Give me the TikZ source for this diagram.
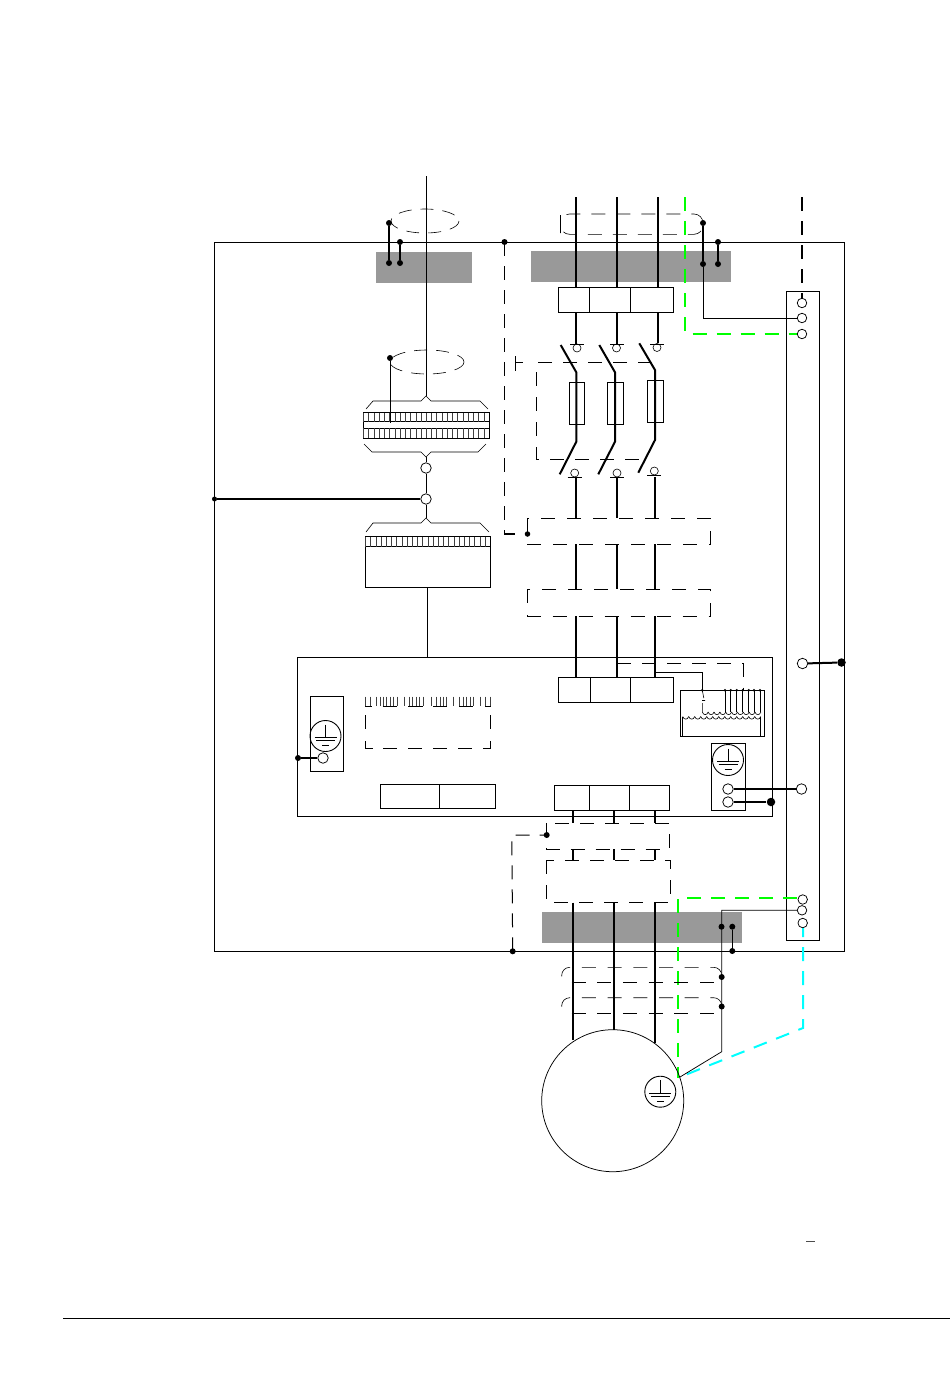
\documentclass[tikz,border=0pt]{standalone}
\definecolor{grnc}{RGB}{0,255,0}
\definecolor{cync}{RGB}{0,255,255}
\begin{document}
\begin{tikzpicture}[x=1pt,y=-1pt,line width=0.75pt,
  pwr/.style={line width=2pt},
  thn/.style={line width=0.6pt},
  tick/.style={line width=0.5pt,black!75},
  ldash/.style={dash pattern=on 14pt off 11pt},
  bdash/.style={line width=2pt,dash pattern=on 14pt off 10pt},
  grn/.style={draw=grnc,line width=2pt,dash pattern=on 14pt off 10pt},
  cyn/.style={draw=cync,line width=2pt,dash pattern=on 14pt off 10pt},
  term/.style={circle,draw,fill=white,inner sep=0pt,minimum size=10.5pt},
  smallterm/.style={circle,draw,thn,fill=white,inner sep=0pt,minimum size=8pt},
  pt/.style={circle,fill=black,inner sep=0pt,minimum size=6pt},
  bigpt/.style={circle,fill=black,inner sep=0pt,minimum size=8.5pt},
  gland/.style={fill=black!40,draw=none},
  strip/.style={draw,rectangle,inner sep=0pt,fill=white},
  earthc/.style={circle,draw,inner sep=0pt,minimum size=31pt,line width=0.9pt}]
\useasboundingbox (0,0) rectangle (950,1398);
\fill[white] (0,0) rectangle (950,1398);

% glands
\fill[gland] (376,252) rectangle (472,283);
\fill[gland] (530.5,251) rectangle (731,282);
\fill[gland] (542,912) rectangle (742,943);

% cabinet
\draw (214.5,242) rectangle (844,951);
% lower board
\node[draw,rectangle,inner sep=0pt,minimum width=474.5pt,minimum height=159pt] (board) at (534.75,736.5) {};

% ---- signal cable
\coordinate (sigtop) at (426,176);
\coordinate (brA) at (426,396);
\draw (sigtop) -- (brA);
\draw[thn,dash pattern=on 13pt off 9pt] (425,221) ellipse[x radius=34,y radius=12];
\draw[thn,dash pattern=on 13pt off 9pt] (427,362) ellipse[x radius=37,y radius=12];
\node[pt] (s1) at (389,223) {};
\node[pt] (s2) at (389,263) {};
\node[pt] (s3) at (400,242) {};
\node[pt] (s4) at (400,263) {};
\draw[line width=1.5pt] (s1) -- (s2);
\draw[line width=1.5pt] (s3) -- (s4);
\node[pt] (s5) at (390,358) {};
\coordinate (s6) at (390,423);
\draw[thn] (s5) -- (s6);
% upper terminal block
\draw[thn] (366,409) -- (373,401) -- (421,401) -- (426,396) -- (431,401) -- (480,401) -- (488,409);
\draw[thn] (363.5,412.7) rectangle (489,421.7);
\draw[thn] (363.5,428.3) rectangle (489,438);
\draw (363.5,421.7) rectangle (489,428.3);
\foreach \i in {0,...,23}{
  \draw[tick] (363.5+\i*5.23,412.7) -- (363.5+\i*5.23,421.7);
  \draw[tick] (363.5+\i*5.23,428.3) -- (363.5+\i*5.23,438);
}
\draw[thn] (364,444) -- (372,452) -- (421,452) -- (426,457) -- (431,452) -- (478,452) -- (486,444);
\coordinate (brB) at (426,457);
\node[term] (c1) at (426,468) {};
\node[term] (c2) at (426,499) {};
\coordinate (brC) at (426,518);
\draw[thn] (brB) -- (c1);
\draw[thn] (c1) -- (c2);
\draw[thn] (c2) -- (brC);
\node[pt,minimum size=5pt] (l1) at (214.5,499) {};
\draw[pwr] (l1) -- (c2);
% lower terminal block
\draw[thn] (366,532) -- (373,523) -- (421,523) -- (426,518) -- (431,523) -- (480,523) -- (489,532);
\draw[thn] (365.5,536.7) rectangle (490.5,587);
\draw[thn] (365.5,546.7) -- (490.5,546.7);
\draw (365.5,536.7) -- (490.5,536.7);
\foreach \i in {0,...,23}{\draw[tick] (365.5+\i*5.2,536.7) -- (365.5+\i*5.2,546.7);}
\coordinate (bl) at (427,587);
\draw[thn] (bl) -- (bl |- board.north);

% ---- board left
\node[draw,rectangle,inner sep=0pt,minimum width=33pt,minimum height=75pt] (ebL) at (326.5,734) {};
\node[earthc] (eL) at (325.5,736) {};
\draw (325.5,724.5) -- (325.5,737.5);
\draw (314.5,737.5) -- (336.5,737.5);
\draw (316,740.5) -- (335,740.5);
\draw[line width=1pt] (322,745.5) -- (329,745.5);
\node[term] (tL) at (323,758) {};
\node[pt] (pL) at (298,758) {};
\draw[pwr] (pL) -- (tL);

% dashed comb box
\foreach \x in {365,370,376,380.7,383.3,386.7,390,393.3,397,404,409.3,412.7,416,419.3,423.3,431.7,436.7,440,443.3,446.7,453.3,459,463.3,466.7,470,473.3,480,485,490}{
  \draw[tick] (\x,696.7) -- (\x,706);}
\foreach \a/\b in {365/371.7,382.7/396.7,408.3/422.7,433.3/446.7,459/472.7,485/490.7}{
  \draw[thn] (\a,706) -- (\b,706);}
\draw[thn] (365.3,715) -- (365.3,729);
\draw[thn] (490.3,715) -- (490.3,729);
\draw[thn] (365.3,741) -- (365.3,748) -- (372.7,748);
\draw[thn] (490.3,741) -- (490.3,748) -- (483.3,748);
\foreach \a in {383.3,408.3,433.3,458.3}{\draw[thn] (\a,748) -- (\a+14,748);}

% bottom strip
\node[strip,minimum width=114.5pt,minimum height=24.5pt] (st4) at (437.75,796.25) {};
\draw[thn] (439,784) -- (439,808.5);

% ---- power wires
\foreach \n/\x in {A/576,B/617,C/658}{\coordinate (top\n) at (\x,197);}
\node[strip,minimum width=114.5pt,minimum height=25pt] (st1) at (615.75,300) {};
\draw[thn] (589.5,287.5) -- (589.5,312.5);
\draw[thn] (630,287.5) -- (630,312.5);
\node[smallterm] (ua) at (577,348) {};
\node[smallterm] (ub) at (616.5,348) {};
\node[smallterm] (uc) at (657,347.5) {};
\foreach \n/\t in {A/ua,B/ub,C/uc}{
  \draw[pwr] (top\n) -- (top\n |- st1.north);
  \draw[pwr] (top\n |- st1.south) -- (top\n |- \t.north);
}
\draw (570,344.5) -- (584,344.5);
\draw (610,344.5) -- (624,344.5);
\draw (650,344.5) -- (664,344.5);
% top dashed loop
\node[pt] (p1) at (703,223) {};
\node[pt] (p2) at (703,264) {};
\node[pt] (p3) at (718,242) {};
\node[pt] (p4) at (718,264) {};
\draw[rounded corners=9pt,thn,dash pattern=on 14pt off 11pt,dash phase=6pt] (560.5,224) -- (560.5,214) -- (703,214) -- (703,234.3) -- (560.5,234.3) -- cycle;
\draw[line width=1.5pt] (p1) -- (p2);
\draw[line width=1.5pt] (p3) -- (p4);
% switches
\draw[pwr] (560.7,345) -- (576.3,372.3) -- (576.3,441.7) -- (559.7,474.3);
\draw[pwr] (599.3,345) -- (615,372.3) -- (615,441.7) -- (598.3,474.3);
\draw[pwr] (639.3,343.3) -- (655,370) -- (655,440) -- (638.3,472.7);
\draw (569,382.3) rectangle (584.3,424.3);
\draw (607.7,382) rectangle (623.3,424.3);
\draw (647.3,380.3) rectangle (663,422.7);
\draw[thn] (515,356) -- (515,370.7);
\draw[thn] (515,362.7) -- (523,362.7);
\draw[line width=0.8pt,dash pattern=on 14pt off 11pt,dash phase=2pt] (650,362.7) -- (536.7,362.7) -- (536.7,459) -- (645,459);
\node[smallterm] (la) at (574.7,473) {};
\node[smallterm] (lb) at (617,473) {};
\node[smallterm] (lc) at (654.3,471) {};
\draw (567.7,477.3) -- (581.7,477.3);
\draw (610,477.3) -- (624,477.3);
\draw (647,475.3) -- (661,475.3);
% dashed contactor boxes
\draw[thn,dash pattern=on 14pt off 12pt] (527.3,518.3) rectangle (710,544.3);
\draw[thn,dash pattern=on 14pt off 12pt] (527.3,589.3) rectangle (710,616);
\foreach \x in {575.5,617,655}{
  \draw[pwr] (\x,477) -- (\x,518.3);
  \draw[pwr] (\x,544.3) -- (\x,589.3);
  \draw[pwr] (\x,616) -- (\x,677.3);
}
\node[strip,minimum width=114.6pt,minimum height=24.7pt] (st2) at (616,689.65) {};
\draw[thn] (590.3,677.3) -- (590.3,702);
\draw[thn] (630.3,677.3) -- (630.3,702);
% control dashed line
\node[pt] (d1) at (504.5,242) {};
\node[pt,minimum size=5.5pt] (d2) at (527.5,534) {};
\draw[line width=1.2pt,dash pattern=on 14pt off 10pt] (d1.center) -- (504.5,534) -- (d2.center);

% transformer
\node[draw,thn,rectangle,inner sep=0pt,minimum width=84pt,minimum height=46.4pt] (tr) at (722,713.5) {};
\draw[thn] (655,672.7) -- (702.3,672.7) -- (702.3,690.3);
\draw[thn,dash pattern=on 14pt off 11pt] (617.3,663.7) -- (743.3,663.7) -- (743.3,690.3);
\foreach \x in {702.3,725,730.7,736.7,742.7,748.7,754,760}{\fill (\x,690.3) circle (1.4pt);}
\foreach \x in {725,730.7,736.7,742.7,748.7,754,760}{\draw[line width=0.6pt] (\x,690.3) -- (\x,712);}
\draw[line width=0.6pt] (702.3,690.3) -- (703.8,698) (702,700.5) -- (705,700.5) (702.3,703) -- (702.3,712);
\foreach \i in {0,...,9}{
  \draw[line width=0.6pt] (702.3+\i*5.85,712) .. controls (703.3+\i*5.85,715.5) and (707.2+\i*5.85,715.5) .. (708.15+\i*5.85,712);
}
\foreach \i in {0,...,12}{
  \draw[line width=0.6pt] (682.7+\i*6,716.5) .. controls (683.7+\i*6,720) and (687.7+\i*6,720) .. (688.7+\i*6,716.5);
}
\draw[line width=0.6pt] (682.7,736.7) -- (682.7,716.5);
\draw[line width=0.6pt] (760.7,736.7) -- (760.7,716.5);

% right earth box
\node[draw,rectangle,inner sep=0pt,minimum width=33.5pt,minimum height=67pt] (ebR) at (728.25,776.5) {};
\node[earthc] (eR) at (728,760) {};
\draw (728,748.5) -- (728,761.5);
\draw (717,761.5) -- (739,761.5);
\draw (718.5,764.5) -- (737.5,764.5);
\draw[line width=1pt] (724.5,769.5) -- (731.5,769.5);
\node[term] (r1) at (728,789) {};
\node[term] (r2) at (728,802) {};

% bus
\node[draw,thn,rectangle,inner sep=0pt,minimum width=32.5pt,minimum height=648.5pt] (bus) at (802.75,615.75) {};
% field wires drawn before the terminals
\coordinate (pe) at (801.7,197);
\coordinate (pef) at (801.7,298);
\draw[bdash] (pe) -- (pef);
\coordinate (g0) at (685,197);
\coordinate (g0c) at (685,333.5);
\coordinate (g1e) at (797,333.5);
\draw[grn] (g0) -- (g0c) -- (g1e);
\coordinate (mg) at (678,1078);
\coordinate (gc) at (678,898.3);
\coordinate (ge) at (797,898.3);
\draw[grn] (ge) -- (gc) -- (mg);
\coordinate (cb) at (803,923);
\coordinate (kneeC) at (803,1028);
\coordinate (mgnd) at (680,1077);
\draw[cyn] (cb) -- (kneeC) -- (mgnd);

\node[term,minimum size=9.5pt] (b1) at (802,303) {};
\node[term,minimum size=9.5pt] (b2) at (802,318) {};
\node[term,minimum size=9.5pt] (b3) at (802,334) {};
\node[term] (b4) at (802.5,663.5) {};
\node[term] (b5) at (801.5,789) {};
\node[term,minimum size=9.5pt] (b6) at (802.7,899.5) {};
\node[term,minimum size=9.5pt] (b7) at (802,910.3) {};
\node[term,minimum size=9.5pt] (b8) at (802.7,923) {};
\node[bigpt] (g1) at (841.5,662.5) {};
\node[bigpt] (g2) at (771,802) {};
\draw[pwr] (b4) -- (g1);
\draw[pwr] (r1) -- (b5);
\draw[pwr] (r2) -- (g2);
\draw (p2) |- (b2);

% ---- lower power
\node[strip,minimum width=114.6pt,minimum height=24.6pt] (st3) at (612,798) {};
\draw[thn] (589,785.7) -- (589,810.3);
\draw[thn] (629.5,785.7) -- (629.5,810.3);
\draw[thn,dash pattern=on 14pt off 11pt] (546.7,823.3) rectangle (669.3,849.3);
\draw[thn,dash pattern=on 14pt off 11pt] (546.7,860) rectangle (670,902.7);
% motor cable screens
\foreach \a in {967.3,997.7}{
  \draw[rounded corners=8pt,thn,dash pattern=on 14pt off 11.7pt] (561.7,\a+9) -- (561.7,\a) -- (721.7,\a) -- (721.7,\a+9);
  \draw[thn,dash pattern=on 14pt off 11.7pt] (571.5,\a+15.2) -- (716,\a+15.2);
}
\foreach \n/\x/\e in {a/572.5/1040,b/614/1029.5,c/655/1043}{
  \coordinate (mw\n) at (\x,\e);
  \draw[pwr] (\x,810.3) -- (\x,823.3);
  \draw[pwr] (\x,849.3) -- (\x,860);
  \draw[pwr] (\x,902.7) -- (mw\n);
}
% left control dashed line
\node[pt] (e1) at (512.7,951.3) {};
\node[pt] (e2) at (546.7,835) {};
\draw[line width=1pt,dash pattern=on 14pt off 10pt] (e1.center) -- (511.8,835) -- (e2.center);
% gland dots
\node[pt] (h1) at (721.5,926.7) {};
\node[pt] (h2) at (732.3,926.7) {};
\node[pt] (h3) at (732.3,951) {};
\draw[line width=1.5pt] (h2) -- (h3);
% motor
\node[circle,draw,inner sep=0pt,minimum size=142pt] (motor) at (612.7,1100.7) {};
\node[earthc] (eM) at (660.3,1091.7) {};
\draw (660.3,1080) -- (660.3,1093);
\draw (649.3,1093) -- (671.3,1093);
\draw (650.8,1096) -- (669.8,1096);
\draw[line width=1pt] (656.8,1101) -- (663.8,1101);
\coordinate (kneeS) at (721.7,1051.7);
\draw (b7) -| (kneeS) -- (mgnd);
\node[pt] (q1) at (721.7,977) {};
\node[pt] (q2) at (721.7,1006.5) {};

% footer
\coordinate (fl) at (63,1318);
\coordinate (fr) at (950,1318);
\draw (fl) -- (fr);
\coordinate (ma) at (806,1241.5);
\coordinate (mb) at (815,1241.5);
\draw[line width=0.8pt,black!70] (ma) -- (mb);
\end{tikzpicture}
\end{document}
